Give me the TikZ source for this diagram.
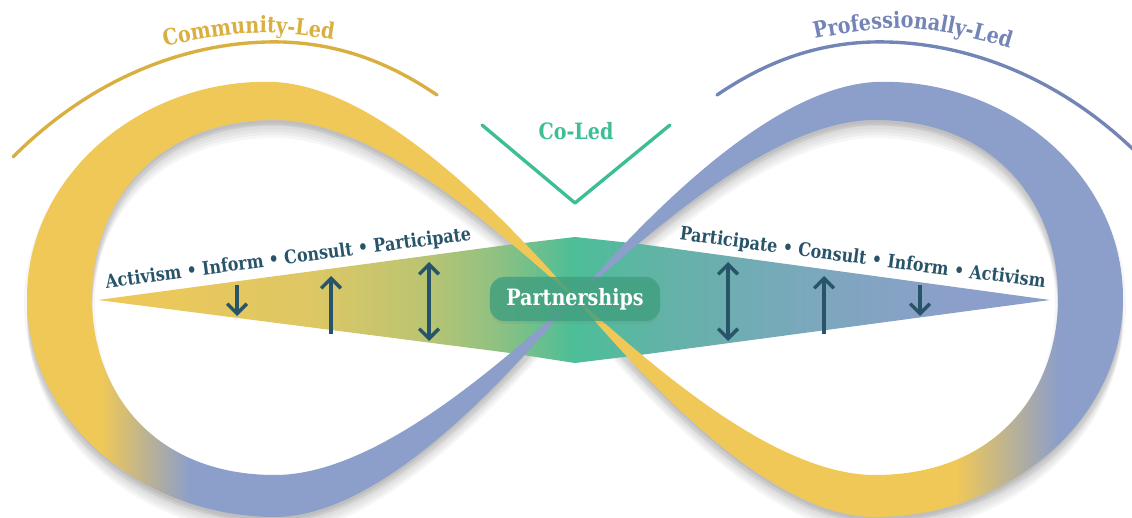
\documentclass[tikz,border=0pt]{standalone}
\usepackage{fontspec}
\setmainfont{DejaVu Serif}[FakeStretch=0.85]
\usetikzlibrary{arrows.meta,decorations.text,shadows,positioning}

\definecolor{yel}{RGB}{240,200,87}
\definecolor{blu}{RGB}{140,159,202}
\definecolor{ink}{RGB}{40,84,105}
\definecolor{commgold}{RGB}{217,175,64}
\definecolor{profblue}{RGB}{115,133,182}
\definecolor{cogreen}{RGB}{62,190,150}
\definecolor{pillgreen}{RGB}{63,160,127}
\definecolor{sa}{RGB}{222,199,100}
\definecolor{sb}{RGB}{188,196,114}
\definecolor{sc}{RGB}{142,193,130}
\definecolor{sd}{RGB}{76,190,152}
\definecolor{se}{RGB}{100,178,168}
\definecolor{sf}{RGB}{125,167,190}

\pgfdeclarehorizontalshading{spread}{100bp}{color(0bp)=(yel); color(25bp)=(yel);
  color(36bp)=(sa); color(42bp)=(sb); color(46bp)=(sc); color(50bp)=(sd);
  color(55bp)=(se); color(63bp)=(sf); color(70bp)=(blu); color(100bp)=(blu)}

\newcommand\titlefont{\bfseries\fontsize{16}{18}\selectfont}

% one loop of the band, centre of the crossing at the origin
\newcommand\lobe{(0,0) .. controls (-60,-68) and (-190,-210) .. (-300,-216)
  .. controls (-430,-221) and (-548,-125) .. (-548,0)
  .. controls (-548,125) and (-430,219) .. (-300,219)
  .. controls (-190,219) and (-60,70) .. (0,0)
  (0,0) .. controls (-55,45) and (-190,177) .. (-300,177)
  .. controls (-420,177) and (-483,95) .. (-483,0)
  .. controls (-483,-95) and (-420,-178) .. (-300,-178)
  .. controls (-190,-178) and (-55,-45) .. (0,0)}

\begin{document}
\begin{tikzpicture}[x=0.025cm,y=-0.025cm,
  pill/.style={rounded corners=10pt,fill=pillgreen,fill opacity=.8,text opacity=1,
    text=white,font=\titlefont,minimum width=4.25cm,minimum height=1.1cm,
    drop shadow={opacity=.15,shadow xshift=0pt,shadow yshift=-2pt}},
  scalelabel/.style={text=ink,font=\bfseries\fontsize{13.3}{15}\selectfont,anchor=base,inner sep=0pt},
  colabel/.style={text=cogreen,font=\titlefont},
  brush/.style={line width=2.4pt,line cap=round,line join=round},
  onearrow/.style={draw=ink,line width=2.4pt,-{Straight Barb[length=7pt,width=14pt]}},
  twoarrow/.style={draw=ink,line width=2.4pt,
    {Straight Barb[length=7pt,width=14pt]}-{Straight Barb[length=7pt,width=14pt]}}]
\useasboundingbox (0,0) rectangle (1132,518);

% soft shadow of the band
\foreach \dx/\dy in {0/3,0/6,0/9,0/12,0/15,0/18,-3/5,3/5}{
  \fill[black,opacity=.035,shift={({575+\dx},{298+\dy})}] \lobe;
  \fill[black,opacity=.035,shift={({575-\dx},{298+\dy})},xscale=-1] \lobe;
}

% the spread from activism to partnerships
\shade[shading=spread] (98,300) -- (507,245) -- (575,237) -- (640,244) -- (1050,300)
  -- (640,355) -- (575,363) -- (510,353) -- cycle;

% left loop
\begin{scope}
\clip[shift={(575,298)}] \lobe;
\fill[yel] (0,0) rectangle (576,298);
\fill[yel] (0,298) rectangle (100,518);
\shade[left color=yel,right color=blu] (100,298) rectangle (190,518);
\fill[blu] (190,298) rectangle (576,518);
\end{scope}

% right loop
\begin{scope}
\clip[shift={(575,298)},xscale=-1] \lobe;
\fill[blu] (574,0) rectangle (1132,298);
\fill[yel] (574,298) rectangle (955,518);
\shade[left color=yel,right color=blu] (955,298) rectangle (1059,518);
\fill[blu] (1059,298) rectangle (1132,518);
\end{scope}

\node[pill] (partner) at (575,299) {Partnerships};

\node[scalelabel,rotate=7.5] (leftscale) at (289,264) {Activism • Inform • Consult • Participate};
\node[scalelabel,rotate=-7.5] (rightscale) at (862,264) {Participate • Consult • Inform • Activism};

% arrows on the spread
\coordinate (ldowna) at (237,285);  \coordinate (ldownb) at (237,316);
\coordinate (lupa) at (331,334);    \coordinate (lupb) at (331,276);
\coordinate (lbotha) at (429,262);  \coordinate (lbothb) at (429,341);
\coordinate (rbotha) at (728,262);  \coordinate (rbothb) at (728,341);
\coordinate (rupa) at (824,334);    \coordinate (rupb) at (824,276);
\coordinate (rdowna) at (920,285);  \coordinate (rdownb) at (920,316);
\draw[onearrow] (ldowna) -- (ldownb);
\draw[onearrow] (lupa) -- (lupb);
\draw[twoarrow] (lbotha) -- (lbothb);
\draw[twoarrow] (rbotha) -- (rbothb);
\draw[onearrow] (rupa) -- (rupb);
\draw[onearrow] (rdowna) -- (rdownb);

% co-led tick
\node[colabel] (coled) at (576,131) {Co-Led};
\coordinate (ticka) at (482,125);
\coordinate (tickv) at (575,203);
\coordinate (tickb) at (670,125);
\draw[brush,cogreen] (ticka) -- (tickv) -- (tickb);

% titles over the loops
\draw[brush,commgold] (13,157) .. controls (100,70) and (200,40) .. (282,42)
  .. controls (350,44) and (400,70) .. (437,95);
\path[decorate,decoration={text along path,text align=center,
  text={|\titlefont\color{commgold}|Community-Led}}]
  plot[smooth] coordinates {(90,75) (159,48) (250,33) (334,40) (410,62)};

\draw[brush,profblue] (717,95) .. controls (754,70) and (804,44) .. (872,42)
  .. controls (954,40) and (1054,70) .. (1141,157);
\path[decorate,decoration={text along path,text align=center,
  text={|\titlefont\color{profblue}|Professionally-Led}}]
  plot[smooth] coordinates {(730,72) (811,40) (910,28) (1014,50) (1092,88)};
\end{tikzpicture}
\end{document}
